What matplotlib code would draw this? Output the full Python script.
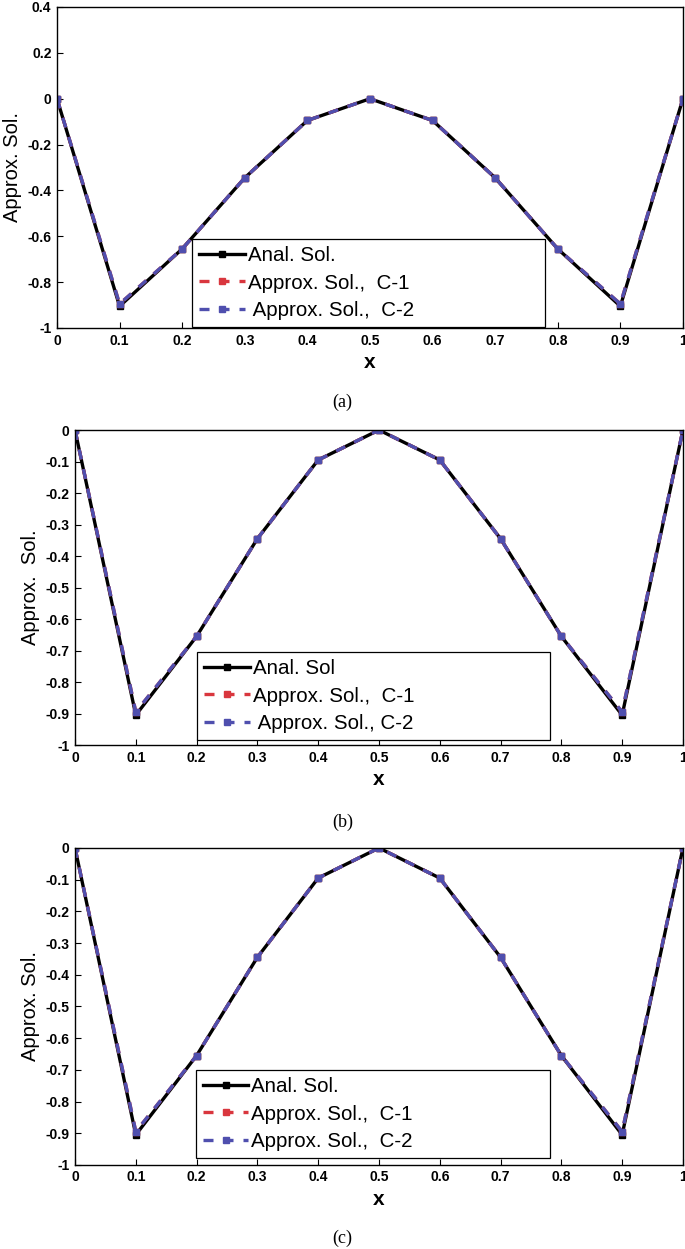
import matplotlib
matplotlib.use("Agg")
import matplotlib.pyplot as plt

plt.rcParams['font.family'] = ['Liberation Sans', 'DejaVu Sans']

x = [0, 0.1, 0.2, 0.3, 0.4, 0.5, 0.6, 0.7, 0.8, 0.9, 1.0]
anal = [0, -0.905, -0.655, -0.345, -0.095, 0, -0.095, -0.345, -0.655, -0.905, 0]
c1 = [0, -0.895, -0.655, -0.345, -0.095, 0, -0.095, -0.345, -0.655, -0.895, 0]
c2 = [0, -0.895, -0.655, -0.345, -0.095, 0, -0.095, -0.345, -0.655, -0.895, 0]

xticks = [0, 0.1, 0.2, 0.3, 0.4, 0.5, 0.6, 0.7, 0.8, 0.9, 1.0]
xtick_labels = ['0', '0.1', '0.2', '0.3', '0.4', '0.5', '0.6', '0.7', '0.8', '0.9', '1']
yticks_a = [-1, -0.8, -0.6, -0.4, -0.2, 0, 0.2, 0.4]
ylabels_a = ['-1', '-0.8', '-0.6', '-0.4', '-0.2', '0', '0.2', '0.4']
yticks_bc = [-1, -0.9, -0.8, -0.7, -0.6, -0.5, -0.4, -0.3, -0.2, -0.1, 0]
ylabels_bc = ['-1', '-0.9', '-0.8', '-0.7', '-0.6', '-0.5', '-0.4', '-0.3', '-0.2', '-0.1', '0']

panels = [
    dict(rect=[0.0832, 0.7374, 0.9138, 0.2570], ylim=(-1, 0.4), yt=yticks_a, yl=ylabels_a,
         labels=['Anal. Sol.', 'Approx. Sol.,  C-1', ' Approx. Sol.,  C-2'],
         leg=(0.216, 0.003, 0.564, 0.28), ylabel='Approx. Sol.', cap='(a)', capy=0.671),
    dict(rect=[0.1095, 0.4035, 0.8875, 0.2522], ylim=(-1, 0), yt=yticks_bc, yl=ylabels_bc,
         labels=['Anal. Sol', 'Approx. Sol.,  C-1', ' Approx. Sol., C-2'],
         leg=(0.201, 0.016, 0.581, 0.276), ylabel='Approx.  Sol.', cap='(b)', capy=0.335),
    dict(rect=[0.1095, 0.0673, 0.8875, 0.2538], ylim=(-1, 0), yt=yticks_bc, yl=ylabels_bc,
         labels=['Anal. Sol.', 'Approx. Sol.,  C-1', 'Approx. Sol.,  C-2'],
         leg=(0.199, 0.022, 0.582, 0.271), ylabel='Approx. Sol.', cap='(c)', capy=0.002),
]

fig = plt.figure(figsize=(6.85, 12.49), dpi=100)

for p in panels:
    ax = fig.add_axes(p['rect'])
    ax.plot(x, anal, '-s', color='black', lw=2.4, ms=4, label=p['labels'][0])
    ax.plot(x, c1, '--s', color='#d9363e', lw=2.4, ms=4, dashes=(3, 3), label=p['labels'][1])
    ax.plot(x, c2, '--s', color='#4f4fae', lw=2.4, ms=4, dashes=(3, 3), label=p['labels'][2])
    ax.set_xlim(0, 1)
    ax.set_ylim(*p['ylim'])
    ax.set_xticks(xticks)
    ax.set_xticklabels(xtick_labels, fontsize=10, fontweight='bold')
    ax.set_yticks(p['yt'])
    ax.set_yticklabels(p['yl'], fontsize=10, fontweight='bold')
    ax.tick_params(direction='in', length=4, width=0.8, pad=4)
    for s in ax.spines.values():
        s.set_linewidth(1.0)
    ax.set_xlabel('x', fontsize=15, fontweight='bold', labelpad=4)
    ax.set_ylabel(p['ylabel'], fontsize=14.5, labelpad=4)
    leg = ax.legend(loc='lower left', bbox_to_anchor=p['leg'], mode='expand',
                    fontsize=14.8, frameon=True, fancybox=False, framealpha=1,
                    edgecolor='black', handlelength=2.2, handletextpad=0.15,
                    borderpad=0.35, labelspacing=0.4, borderaxespad=0)
    leg.get_frame().set_linewidth(0.9)
    fig.text(0.5, p['capy'], p['cap'], ha='center', va='bottom', fontsize=13,
             family=['Liberation Serif', 'DejaVu Serif'])

fig.savefig('out.png', dpi=100)
